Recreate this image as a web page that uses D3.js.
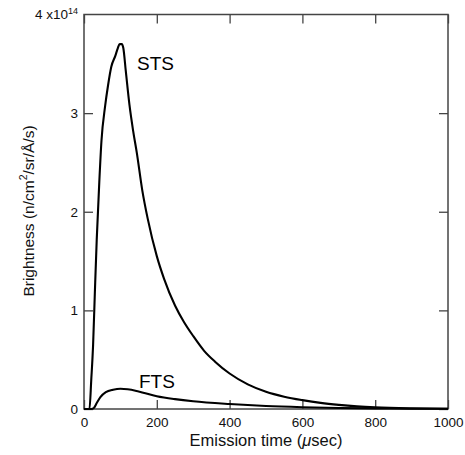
<!DOCTYPE html>
<html><head><meta charset="utf-8">
<script src="https://cdn.jsdelivr.net/npm/d3@7"></script>
<style>body{margin:0;background:#fff}svg{display:block}</style>
</head><body><svg id="c" width="465" height="455"></svg>
<script>
// time in microseconds, brightness in units of 1e14 n/cm2/sr/Å/s
const timeSTS = [0, 15, 20, 25, 30, 35, 42, 48, 58, 66, 75, 86, 93, 98, 104, 108, 115, 125, 135, 145, 160, 175, 200, 220, 250, 275, 300, 330, 360, 400, 450, 500, 550, 600, 650, 700, 750, 800, 900, 1000];
const sts =     [0, 0, 0.3, 0.65, 1.2, 1.72, 2.3, 2.72, 3.07, 3.28, 3.47, 3.58, 3.66, 3.70, 3.70, 3.66, 3.42, 3.08, 2.82, 2.6, 2.22, 1.93, 1.55, 1.32, 1.05, 0.88, 0.74, 0.59, 0.48, 0.36, 0.25, 0.175, 0.125, 0.09, 0.062, 0.042, 0.027, 0.017, 0.007, 0.003];
const timeFTS = [0, 20, 27, 35, 45, 60, 80, 100, 120, 150, 200, 250, 300, 400, 500, 600, 700, 800, 900, 1000];
const fts =     [0, 0, 0.01, 0.06, 0.12, 0.17, 0.195, 0.205, 0.2, 0.178, 0.13, 0.1, 0.078, 0.05, 0.03, 0.018, 0.01, 0.006, 0.003, 0.002];
const seriesNames = ["STS", "FTS"];
const xTicks = [0, 200, 400, 600, 800, 1000];
const yTicks = [0, 1, 2, 3];
const xTitle = "Emission time (";
const yTitle = "Brightness (n/cm";

const svg = d3.select("#c");
const W = 465, H = 455;
const m = {left: 84, right: 17, top: 14.5, bottom: 46};
const x = d3.scaleLinear().domain([0, 1000]).range([m.left, W - m.right]);
const y = d3.scaleLinear().domain([0, 4]).range([H - m.bottom, m.top]);
const font = "'Liberation Sans', Arial, Helvetica, sans-serif";
const frameColor = "#444";

function styleAxis(g) {
  g.select(".domain").remove();
  g.selectAll(".tick line").attr("stroke", frameColor).attr("stroke-width", 1.3);
  g.selectAll("text").attr("font-family", font).attr("font-size", 13.5).attr("fill", "#111");
}

svg.append("g").attr("transform", `translate(0,${y(0)})`)
  .call(d3.axisBottom(x).tickValues(xTicks).tickSize(-9).tickPadding(8).tickFormat(d3.format("d")))
  .call(styleAxis);
svg.append("g").attr("transform", `translate(0,${y(4)})`)
  .call(d3.axisTop(x).tickValues(xTicks).tickSize(-9).tickFormat(""))
  .call(styleAxis);
svg.append("g").attr("transform", `translate(${x(0)},0)`)
  .call(d3.axisLeft(y).tickValues(yTicks).tickSize(-9).tickPadding(6).tickFormat(d3.format("d")))
  .call(styleAxis);
svg.append("g").attr("transform", `translate(${x(1000)},0)`)
  .call(d3.axisRight(y).tickValues(yTicks).tickSize(-9).tickFormat(""))
  .call(styleAxis);

// top label 4 x10^14
const topLabel = svg.append("text").attr("x", x(0) - 6).attr("y", y(4)).attr("dy", "0.32em")
  .attr("text-anchor", "end").attr("font-family", font).attr("font-size", 13.5).attr("fill", "#111");
topLabel.append("tspan").text("4 x10");
topLabel.append("tspan").attr("font-size", 9).attr("dy", -5).text("14");

// frame
svg.append("rect").attr("x", x(0)).attr("y", y(4)).attr("width", x(1000) - x(0)).attr("height", y(0) - y(4))
  .attr("fill", "none").attr("stroke", frameColor).attr("stroke-width", 1.5);

// curves
const line = d3.line().x(d => x(d[0])).y(d => y(d[1])).curve(d3.curveMonotoneX);
const data = [d3.zip(timeSTS, sts), d3.zip(timeFTS, fts)];
svg.append("g").selectAll("path").data(data).join("path")
  .attr("d", line).attr("fill", "none").attr("stroke", "#000").attr("stroke-width", 2.1)
  .attr("stroke-linejoin", "round");

// series labels
const labelPos = [[137, 70], [139, 388]];
svg.append("g").selectAll("text").data(seriesNames).join("text")
  .attr("x", (d, i) => labelPos[i][0]).attr("y", (d, i) => labelPos[i][1])
  .attr("font-family", font).attr("font-size", 19).attr("fill", "#000").text(d => d);

// x title
const xt = svg.append("text").attr("x", (x(0) + x(1000)) / 2).attr("y", 446)
  .attr("text-anchor", "middle").attr("font-family", font).attr("font-size", 16.5).attr("fill", "#111");
xt.append("tspan").text(xTitle);
xt.append("tspan").attr("font-style", "italic").text("\u03bc");
xt.append("tspan").text("sec)");

// y title
const yt = svg.append("text").attr("transform", `translate(33.5,${211}) rotate(-90)`)
  .attr("text-anchor", "middle").attr("font-family", font).attr("font-size", 15.5).attr("fill", "#111");
yt.append("tspan").text(yTitle);
yt.append("tspan").attr("font-size", 10.5).attr("dy", -7).text("2");
yt.append("tspan").attr("dy", 7).text("/sr/\u00c5/s)");
</script>
</body></html>
